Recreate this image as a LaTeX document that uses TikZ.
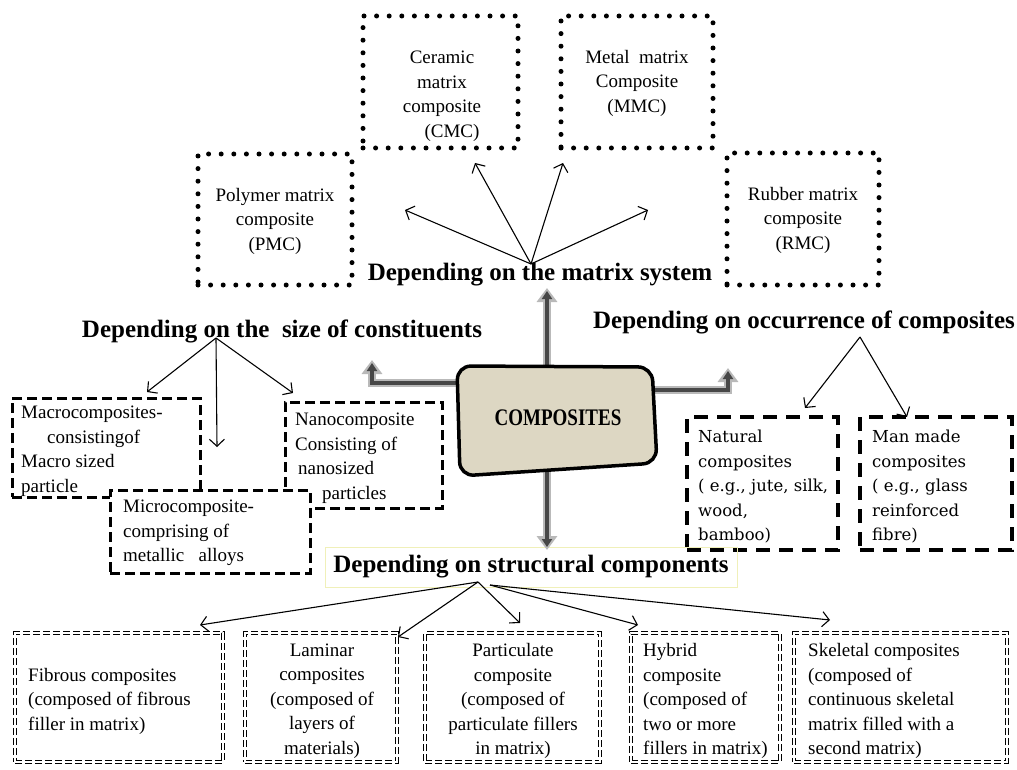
\documentclass[tikz,border=0pt]{standalone}
\usepackage{fontspec}
\setmainfont{Liberation Serif}
\newfontfamily\camfont{DejaVu Serif}
\usetikzlibrary{arrows.meta}
\definecolor{boxfill}{RGB}{221,215,195}
\definecolor{hlbox}{RGB}{240,240,185}
\begin{document}
\begin{tikzpicture}[x=1pt,y=-1pt,
  dotbox/.style={draw, line width=5pt, line cap=round, dash pattern=on 0pt off 12.6pt, inner sep=0pt},
  dashbox/.style={draw, line width=3pt, dash pattern=on 10pt off 5pt, fill=white, inner sep=0pt},
  bigdash/.style={draw, line width=4pt, dash pattern=on 14pt off 9pt, inner sep=0pt},
  dblbox/.style={draw, double, line width=1.2pt, double distance=1.8pt, dash pattern=on 7pt off 3pt, inner sep=0pt},
  thinarrow/.style={line width=1.1pt, -{Straight Barb[length=7pt,width=15pt]}},
  heading/.style={font=\fontsize{25}{30}\selectfont\bfseries, inner sep=0pt},
  txt/.style={font=\fontsize{19}{24.5}\selectfont, inner sep=0pt},
  camtxt/.style={font=\camfont\fontsize{16.5}{24.5}\selectfont, inner sep=0pt},
  gout/.style={line width=8pt, draw=gray!55, line join=miter, -{Triangle[width=20pt,length=14pt]}},
  gin/.style={line width=3.5pt, draw=black!72, line join=miter, shorten >=3pt, -{Triangle[width=10pt,length=8pt]}}
]
\useasboundingbox (0,0) rectangle (1017,770);

% ---------- matrix system boxes ----------
\node[dotbox, minimum width=154pt, minimum height=131pt] (pmc) at (275,219.5) {};
\node[dotbox, minimum width=155pt, minimum height=132pt] (cmc) at (440.5,82) {};
\node[dotbox, minimum width=152pt, minimum height=132pt] (mmc) at (637,82) {};
\node[dotbox, minimum width=152pt, minimum height=132pt] (rmc) at (803,219) {};
\node[txt, align=center] (tpmc) at (275,221) {Polymer matrix\\composite\\(PMC)};
\node[txt, align=center] (tcmc) at (442,96) {Ceramic\\matrix\\composite\\\hspace{20pt}(CMC)};
\node[txt, align=center] (tmmc) at (637,83) {Metal~~matrix\\Composite\\(MMC)};
\node[txt, align=center] (trmc) at (803,220) {Rubber matrix\\composite\\(RMC)};

% ---------- size boxes ----------
\node[dashbox, minimum width=188pt, minimum height=99pt] (macro) at (106,447.5) {};
\node[dashbox, minimum width=157pt, minimum height=106pt] (nano) at (363.5,455) {};
\node[dashbox, minimum width=200pt, minimum height=83pt] (micro) at (210,531.5) {};
\node[txt, align=left, anchor=west] (tmacro) at (21,451) {Macrocomposites-\\\hspace{26pt}consistingof\\Macro sized\\particle};
\node[txt, align=left, anchor=west] (tnano) at (295,458) {Nanocomposite\\Consisting of\\\hspace{3pt}nanosized\\\hspace{27pt}particles};
\node[txt, align=left, anchor=west] (tmicro) at (123,533) {Microcomposite-\\comprising of\\metallic~~~alloys};

% ---------- occurrence boxes ----------
\node[bigdash, minimum width=151pt, minimum height=133pt] (natural) at (762.5,483.5) {};
\node[bigdash, minimum width=152pt, minimum height=133pt] (manmade) at (936,483.5) {};
\node[camtxt, align=left, anchor=west] (tnatural) at (698,487) {Natural\\composites\\( e.g., jute, silk,\\wood,\\bamboo)};
\node[camtxt, align=left, anchor=west] (tmanmade) at (872,487) {Man made\\composites\\( e.g., glass\\reinforced\\fibre)};

% ---------- structural boxes ----------
\node[dblbox, minimum width=208pt, minimum height=129pt] (fib) at (119,697.5) {};
\node[dblbox, minimum width=152pt, minimum height=129pt] (lam) at (321,697.5) {};
\node[dblbox, minimum width=175pt, minimum height=129pt] (par) at (512.5,697.5) {};
\node[dblbox, minimum width=149pt, minimum height=129pt] (hyb) at (705.5,697.5) {};
\node[dblbox, minimum width=213pt, minimum height=129pt] (ske) at (900.5,697.5) {};
\node[txt, align=left, anchor=west] (tfib) at (28,701) {Fibrous composites\\(composed of fibrous\\filler in matrix)};
\node[txt, align=center] (tlam) at (322,701) {Laminar\\composites\\(composed of\\layers of\\materials)};
\node[txt, align=center] (tpar) at (513,701) {Particulate\\composite\\(composed of\\particulate fillers\\in matrix)};
\node[txt, align=left, anchor=west] (thyb) at (643,701) {Hybrid\\composite\\(composed of\\two or more\\fillers in matrix)};
\node[txt, align=left, anchor=west] (tske) at (808,701) {Skeletal composites\\(composed of\\continuous skeletal\\matrix filled with a\\second matrix)};

% ---------- headings ----------
\node[heading, anchor=base] (hmatrix) at (540,280) {Depending on the matrix system};
\node[heading, anchor=base] (hsize) at (282,337) {Depending on the~~size of constituents};
\node[heading, anchor=base] (hocc) at (804,328) {Depending on occurrence of composites};
\node[draw=hlbox, line width=0.8pt, minimum width=412pt, minimum height=40pt, inner sep=0pt,
      font=\fontsize{25}{30}\selectfont\bfseries] (hstruct) at (531,567) {Depending on structural components};

% ---------- thin arrows ----------
\coordinate (m0) at (531,264);
\coordinate (m1) at (405,210);
\coordinate (m2) at (475,163);
\coordinate (m3) at (563,163);
\coordinate (m4) at (648,210);
\foreach \t in {m1,m2,m3,m4} \draw[thinarrow] (m0) -- (\t);

\coordinate (s0) at (216,338);
\coordinate (s1) at (147,392);
\coordinate (s2) at (217,447);
\coordinate (s3) at (293,393);
\foreach \t in {s1,s2,s3} \draw[thinarrow] (s0) -- (\t);

\coordinate (o0) at (860,337);
\coordinate (o1) at (805,408);
\coordinate (o2) at (907,417);
\foreach \t in {o1,o2} \draw[thinarrow] (o0) -- (\t);

\coordinate (t0) at (478,582);
\coordinate (t0b) at (490,585);
\coordinate (t1) at (200,625);
\coordinate (t2) at (398,637);
\coordinate (t3) at (520,623);
\coordinate (t4) at (638,625);
\coordinate (t5) at (830,620);
\foreach \t in {t1,t2,t3} \draw[thinarrow] (t0) -- (\t);
\foreach \t in {t4,t5} \draw[thinarrow] (t0b) -- (\t);

% ---------- grey block arrows ----------
\coordinate (cu) at (547,368);
\coordinate (au) at (547,288);
\coordinate (cl) at (462,383);
\coordinate (bl) at (372,383);
\coordinate (al) at (372,360);
\coordinate (cr) at (652,390);
\coordinate (br) at (728,390);
\coordinate (ar) at (728,368);
\coordinate (cd) at (547,470);
\coordinate (ad) at (547,550);
\draw[gout] (cu) -- (au);  \draw[gin] (cu) -- (au);
\draw[gout] (cl) -- (bl) -- (al);  \draw[gin] (cl) -- (bl) -- (al);
\draw[gout] (cr) -- (br) -- (ar);  \draw[gin] (cr) -- (br) -- (ar);
\draw[gout] (cd) -- (ad);  \draw[gin] (cd) -- (ad);

% ---------- central box ----------
\draw[line width=3.5pt, fill=boxfill, rounded corners=14pt]
  (457,366) -- (652,367) -- (657,463) -- (460,476) -- cycle;
\node[inner sep=0pt, font=\fontsize{19}{22}\selectfont\bfseries] (comp) at (558,418) {\scalebox{1}[1.25]{COMPOSITES}};

\end{tikzpicture}
\end{document}
